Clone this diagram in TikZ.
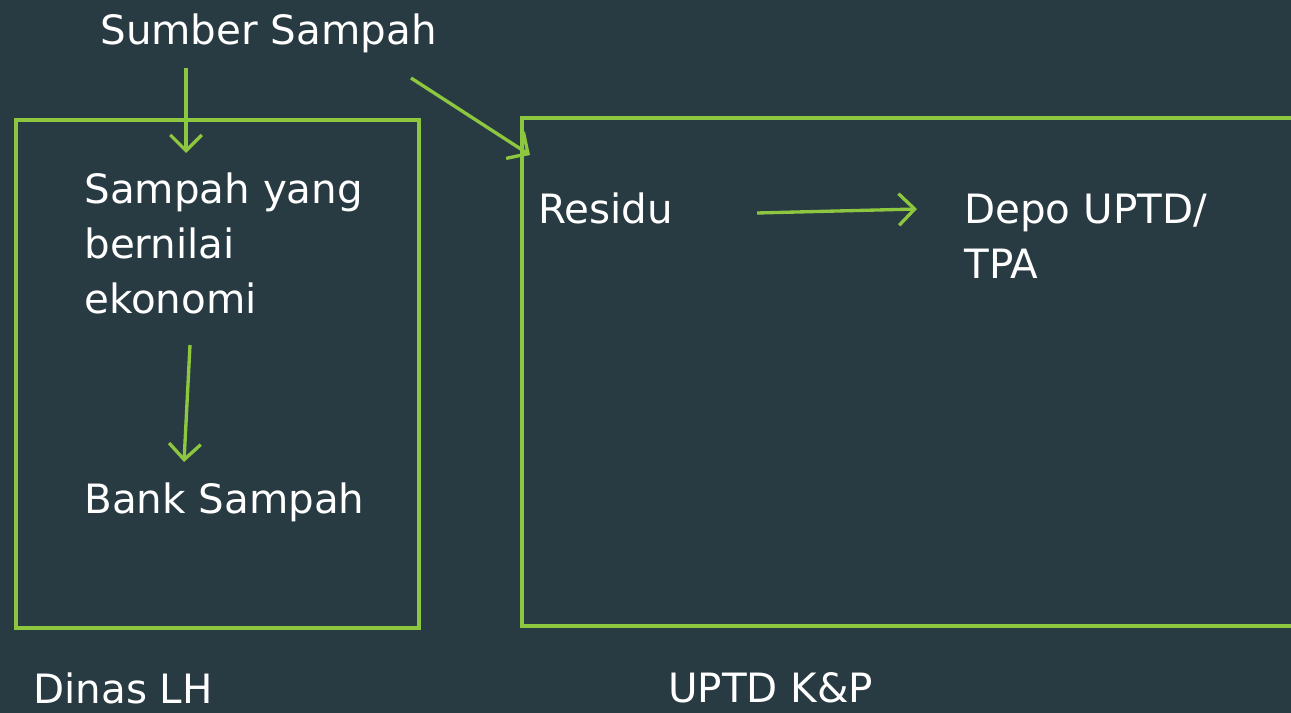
\documentclass[tikz,border=0pt]{standalone}
\usepackage{fontspec}
\setmainfont{DejaVu Sans}
\usepackage{tikz}
\usetikzlibrary{arrows.meta,positioning}
\definecolor{slate}{RGB}{40,58,66}
\definecolor{leaf}{RGB}{141,198,63}

\begin{document}
\begin{tikzpicture}[x=0.02cm,y=-0.02cm,
  lbl/.style={text=white,anchor=west,inner sep=0pt,align=left,
    font=\fontsize{23}{31.3}\selectfont},
  frame/.style={draw=leaf,line width=2.8pt},
  arr/.style={draw=leaf,line width=1.9pt,-{Straight Barb[length=9pt,width=18pt,line width=1.9pt]}}]
\useasboundingbox (0,0) rectangle (1291,713);
\fill[slate] (0,0) rectangle (1291,713);
% boxes
\draw[frame] (16,120) rectangle (419,628);
\draw[frame] (522,118) rectangle (1300,626);
% texts
\node[lbl] (sumber) at (100,33) {Sumber Sampah};
\node[lbl] (nilai) at (84,243) {Sampah yang\\bernilai\\ekonomi};
\node[lbl] (bank) at (84,502) {Bank Sampah};
\node[lbl] (residu) at (538,208) {Residu};
\node[lbl] (depo) at (964,236) {Depo UPTD/\\TPA};
\node[lbl] (dinas) at (33,688) {Dinas LH};
\node[lbl] (uptd) at (668,688) {UPTD K\&P};
% arrows
\coordinate (a1) at (186,68);
\coordinate (a2) at (186,153);
\coordinate (b1) at (411,78);
\coordinate (b2) at (530,155);
\coordinate (c1) at (190,345);
\coordinate (c2) at (184,462);
\coordinate (d1) at (757,213);
\coordinate (d2) at (917,209);
\draw[arr] (a1) -- (a2);
\draw[arr] (b1) -- (b2);
\draw[arr] (c1) -- (c2);
\draw[arr] (d1) -- (d2);
\end{tikzpicture}
\end{document}
